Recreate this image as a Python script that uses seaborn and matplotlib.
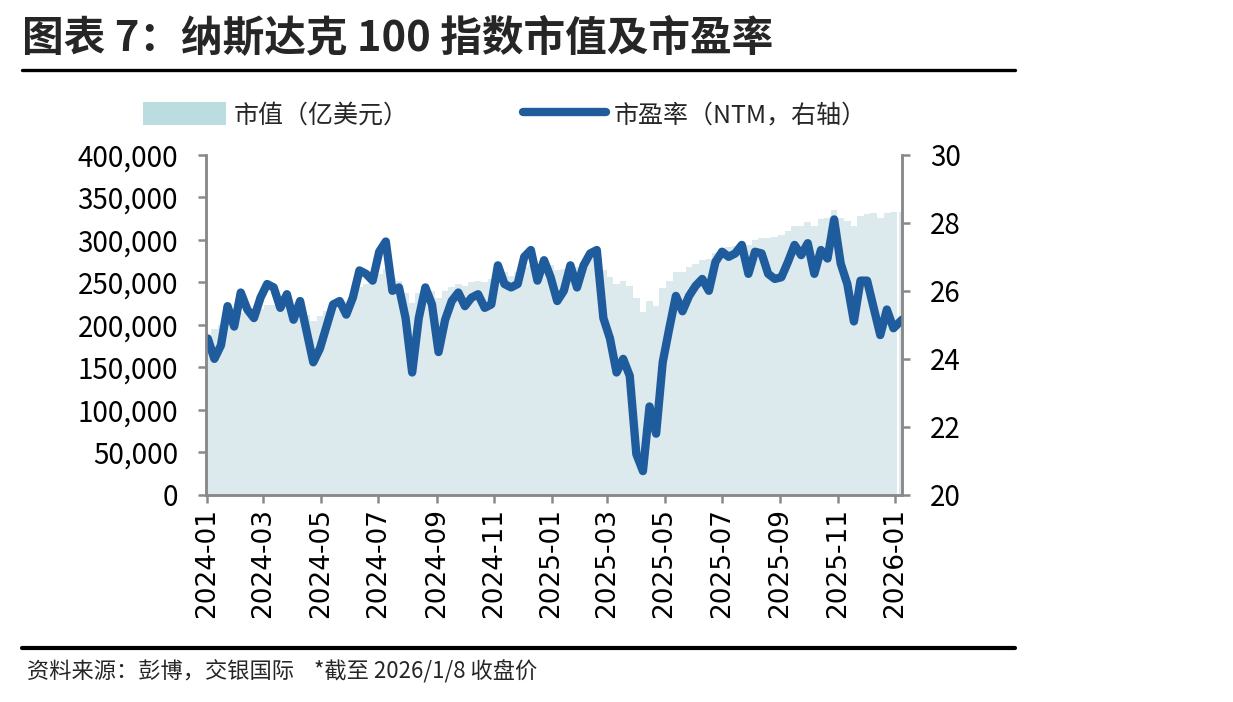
import numpy as np
import pandas as pd
import seaborn as sns
import matplotlib
matplotlib.use("Agg")
import matplotlib.pyplot as plt
import matplotlib.dates as mdates
from matplotlib.ticker import FuncFormatter, MultipleLocator
from matplotlib.patches import Patch
from matplotlib.lines import Line2D

# ===============================
# DATA (weekly samples)
# ===============================
TITLE = "图表 7：纳斯达克 100 指数市值及市盈率"
SOURCE = "资料来源：彭博，交银国际    *截至 2026/1/8 收盘价"
CAP_LABEL = "市值（亿美元）"
PE_LABEL = "市盈率（NTM，右轴）"

# weekly dates from 2024-01-02, last point is the 2026-01-08 close
dates = list(pd.date_range("2024-01-02", periods=105, freq="7D")) + [pd.Timestamp("2026-01-08")]

# market cap, thousands of 亿美元
cap_k = [
    186, 195, 200, 209, 206, 214, 216, 213, 219, 223,
    223, 220, 225, 218, 222, 212, 205, 210, 216, 225,
    229, 228, 234, 244, 248, 252, 260, 266, 255, 252,
    238, 226, 238, 244, 240, 232, 240, 244, 248, 246,
    250, 252, 250, 254, 264, 262, 258, 262, 268, 270,
    266, 272, 270, 264, 266, 272, 268, 274, 280, 284,
    264, 256, 248, 252, 246, 232, 215, 228, 222, 243,
    252, 262, 262, 268, 272, 276, 278, 285, 290, 291,
    293, 297, 294, 300, 302, 302, 303, 306, 310, 316,
    316, 321, 316, 324, 326, 335, 326, 322, 316, 328,
    330, 331, 326, 332, 333, 333,
]

# forward PE (NTM)
pe = [
    24.6, 24.0, 24.4, 25.55, 24.95, 25.95, 25.45, 25.2, 25.8, 26.2,
    26.1, 25.5, 25.9, 25.15, 25.7, 24.8, 23.9, 24.3, 24.95, 25.6,
    25.7, 25.3, 25.8, 26.6, 26.5, 26.3, 27.15, 27.45, 26.0, 26.1,
    25.2, 23.6, 25.2, 26.1, 25.6, 24.2, 25.15, 25.7, 25.95, 25.55,
    25.8, 25.9, 25.5, 25.6, 26.75, 26.2, 26.1, 26.2, 27.0, 27.2,
    26.3, 26.9, 26.4, 25.7, 26.0, 26.75, 26.1, 26.75, 27.1, 27.2,
    25.2, 24.6, 23.6, 24.0, 23.5, 21.2, 20.7, 22.6, 21.8, 23.9,
    24.9, 25.85, 25.4, 25.85, 26.15, 26.35, 26.0, 26.85, 27.15, 27.0,
    27.1, 27.35, 26.5, 27.15, 27.1, 26.5, 26.35, 26.4, 26.85, 27.35,
    27.05, 27.4, 26.5, 27.2, 26.95, 28.1, 26.8, 26.2, 25.1, 26.3,
    26.3, 25.5, 24.7, 25.45, 24.9, 25.15,
]

df = pd.DataFrame({"date": dates, "cap": np.array(cap_k) * 1000, "pe": pe})

# ===============================
# STYLE
# ===============================
sns.set_theme(style="ticks")
plt.rcParams["font.family"] = ["Noto Sans CJK SC", "DejaVu Sans"]

AREA = "#dce9ed"
AREA_LEG = "#bcdde0"
LINE = "#1f5c9e"
SPINE = "#898989"

fig = plt.figure(figsize=(12.33, 7.02), dpi=100)
ax = fig.add_axes([0.167, 0.295, 0.5645, 0.4845])
ax2 = ax.twinx()

# ---------- market cap bars ----------
ax.bar(df["date"], df["cap"], width=7, color=AREA, linewidth=0)

# ---------- PE line ----------
sns.lineplot(data=df, x="date", y="pe", ax=ax2, color=LINE, linewidth=6,
             solid_joinstyle="round", solid_capstyle="round", legend=False)

ax.set_xlim(pd.Timestamp("2023-12-31"), pd.Timestamp("2026-01-08"))
ax.set_ylim(0, 400000)
ax2.set_ylim(20, 30)
ax.yaxis.set_major_locator(MultipleLocator(50000))
ax.yaxis.set_major_formatter(FuncFormatter(lambda v, p: f"{v:,.0f}"))
ax2.yaxis.set_major_locator(MultipleLocator(2))

ax.xaxis.set_major_locator(mdates.MonthLocator(bymonth=[1, 3, 5, 7, 9, 11]))
ax.xaxis.set_major_formatter(mdates.DateFormatter("%Y-%m"))

ax.set_xlabel("")
ax.set_ylabel("")
ax2.set_xlabel("")
ax2.set_ylabel("")

for a in (ax, ax2):
    a.spines["top"].set_visible(False)
    for s in ("left", "right", "bottom"):
        a.spines[s].set_color(SPINE)
        a.spines[s].set_linewidth(1.8)
    a.tick_params(axis="both", colors=SPINE, width=1.8, length=6,
                  labelcolor="black", labelsize=20)
    a.grid(False)

ax.tick_params(axis="y", pad=14)
ax2.tick_params(axis="y", pad=14)
ax.tick_params(axis="x", labelsize=19)

for lab in ax.get_xticklabels():
    lab.set_rotation(90)
    lab.set_family("DejaVu Sans")

# ---------- legend ----------
handles = [Patch(facecolor=AREA_LEG, edgecolor="none"),
           Line2D([0], [0], color=LINE, linewidth=6, solid_capstyle="round")]
fig.legend(handles, [CAP_LABEL, PE_LABEL], ncol=2, loc="center left",
           bbox_to_anchor=(0.098, 0.836), frameon=False, fontsize=18,
           handlelength=3.3, handleheight=1.0, columnspacing=4.6, handletextpad=0.3)

# ---------- title, rules, source ----------
fig.text(0.018, 0.945, TITLE, fontsize=30, fontweight="bold", va="center", ha="left")
fig.add_artist(Line2D([0.018, 0.823], [0.9, 0.9], color="black", linewidth=2.4,
                      transform=fig.transFigure))
fig.add_artist(Line2D([0.018, 0.823], [0.077, 0.077], color="black", linewidth=3,
                      transform=fig.transFigure))
fig.text(0.022, 0.043, SOURCE, fontsize=16, style="italic", va="center", ha="left")

fig.savefig("out.png", dpi=100)
